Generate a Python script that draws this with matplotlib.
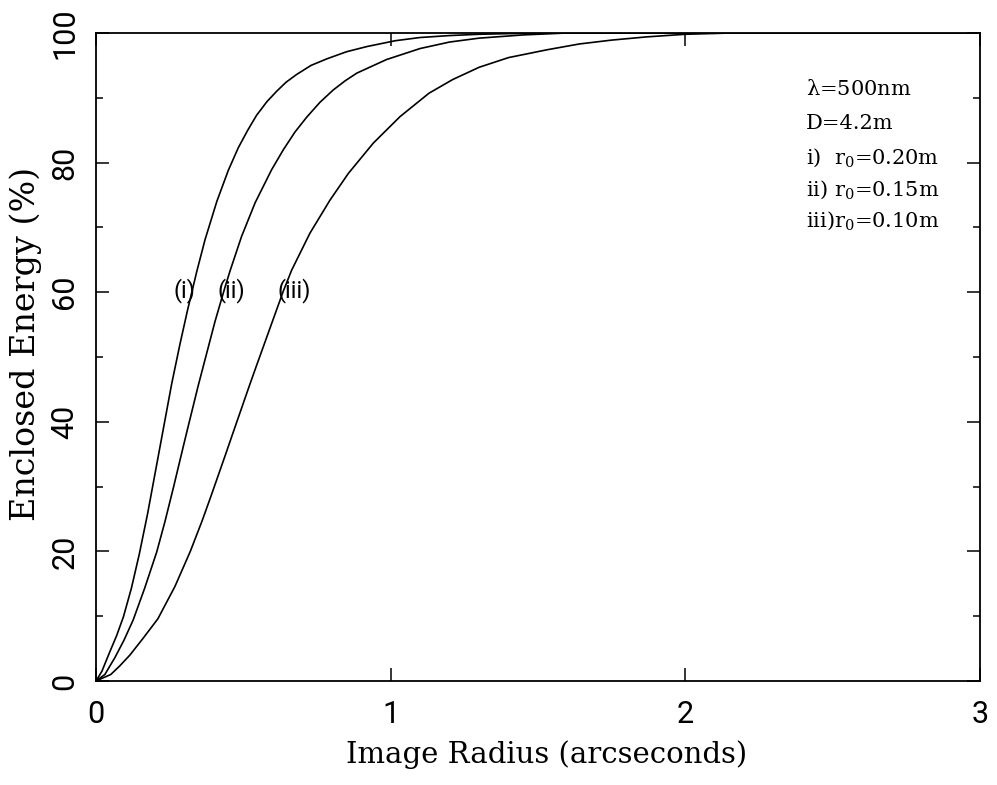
import matplotlib
matplotlib.use("Agg")
import matplotlib.pyplot as plt
from matplotlib.ticker import MultipleLocator

#=======================================
# Data
#=======================================
# curve (i)  r0 = 0.20 m
r_i = [0, 0.02, 0.045, 0.07, 0.093, 0.12, 0.147, 0.175, 0.215, 0.257, 0.285,
       0.31, 0.342, 0.37, 0.41, 0.449, 0.483, 0.515, 0.545, 0.58, 0.613,
       0.645, 0.681, 0.73, 0.783, 0.85, 0.919, 1.015, 1.1, 1.2, 1.3, 1.4,
       1.55, 3.0]
ee_i = [0, 1.5, 4.3, 7.0, 9.9, 14.3, 19.6, 25.8, 35.6, 45.9, 52.0,
        57.1, 63.2, 68.1, 74.0, 78.8, 82.3, 85.0, 87.3, 89.4, 91.0,
        92.4, 93.6, 95.0, 96.0, 97.1, 97.9, 98.8, 99.3, 99.6, 99.8, 99.9,
        100, 100]

# curve (ii)  r0 = 0.15 m
r_ii = [0, 0.03, 0.064, 0.095, 0.126, 0.165, 0.206, 0.234, 0.263, 0.291,
        0.308, 0.347, 0.404, 0.438, 0.455, 0.494, 0.54, 0.596, 0.636, 0.675,
        0.715, 0.76, 0.805, 0.845, 0.885, 0.986, 1.1, 1.2, 1.3, 1.45, 1.6,
        3.0]
ee_ii = [0, 1.0, 3.6, 6.3, 9.4, 14.3, 19.9, 24.6, 29.9, 35.2,
         38.4, 45.6, 55.5, 60.8, 63.3, 68.6, 73.8, 78.9, 82.0, 84.7,
         87.0, 89.3, 91.2, 92.6, 93.8, 95.9, 97.6, 98.6, 99.2, 99.7, 100,
         100]

# curve (iii)  r0 = 0.10 m
r_iii = [0, 0.05, 0.08, 0.115, 0.16, 0.21, 0.268, 0.32, 0.36, 0.39, 0.44,
         0.465, 0.52, 0.545, 0.598, 0.636, 0.664, 0.726, 0.794, 0.856, 0.941,
         1.032, 1.13, 1.21, 1.30, 1.40, 1.53, 1.64, 1.75, 1.87, 2.0, 2.16,
         3.0]
ee_iii = [0, 1.0, 2.3, 4.0, 6.6, 9.6, 14.6, 20.0, 24.7, 28.5, 35.0,
          38.3, 45.5, 48.7, 55.4, 60.2, 63.4, 69.1, 74.2, 78.3, 83.0,
          87.1, 90.7, 92.8, 94.7, 96.2, 97.4, 98.3, 98.9, 99.4, 99.8, 100,
          100]

curve_labels = ["(i)", "(ii)", "(iii)"]
curve_label_x = [0.30, 0.461, 0.672]
curve_label_y = 60.3

info_lines = [r"$\lambda$=500nm", "D=4.2m",
              r"i)  r$_\mathrm{0}$=0.20m",
              r"ii) r$_\mathrm{0}$=0.15m",
              r"iii)r$_\mathrm{0}$=0.10m"]
info_y = [91.4, 86.0, 80.7, 75.8, 71.0]

#=======================================
# Plot
#=======================================
plt.rcParams["mathtext.fontset"] = "custom"
plt.rcParams["mathtext.rm"] = "DejaVu Serif"
plt.rcParams["mathtext.it"] = "DejaVu Serif"

fig = plt.figure(figsize=(9.97, 7.85), dpi=100)
ax = fig.add_axes([0.0963, 0.1325, 0.8866, 0.8255])

for r, ee in [(r_i, ee_i), (r_ii, ee_ii), (r_iii, ee_iii)]:
    ax.plot(r, ee, color="black", lw=1.2, solid_joinstyle="round")

for lab, x in zip(curve_labels, curve_label_x):
    ax.text(x, curve_label_y, lab, ha="center", va="center",
            fontsize=17, family="Roboto")

for line, y in zip(info_lines, info_y):
    ax.text(2.41, y, line, ha="left", va="center",
            fontsize=15, family="DejaVu Serif")

ax.set_xlim(0, 3)
ax.set_ylim(0, 100)
ax.xaxis.set_major_locator(MultipleLocator(1))
ax.yaxis.set_major_locator(MultipleLocator(20))
ax.yaxis.set_minor_locator(MultipleLocator(10))
ax.tick_params(which="both", direction="in", top=True, right=True,
               color="black", width=1.1)
ax.tick_params(which="major", length=9.5)
ax.tick_params(which="minor", length=5)
ax.tick_params(axis="x", which="major", pad=14)
ax.tick_params(axis="y", which="major", pad=12)
for s in ax.spines.values():
    s.set_linewidth(1.3)

for t in ax.get_xticklabels():
    t.set_family("Roboto")
    t.set_fontsize(22)
for t in ax.get_yticklabels():
    t.set_family("Roboto")
    t.set_fontsize(22)
    t.set_rotation(90)
    t.set_va("center")

ax.set_xlabel("Image Radius (arcseconds)", family="DejaVu Serif", fontsize=21)
ax.set_ylabel("Enclosed Energy (%)", family="DejaVu Serif", fontsize=24)
ax.xaxis.label.set_va("center")
ax.yaxis.label.set_va("center")
ax.xaxis.set_label_coords(0.51, -0.114)
ax.yaxis.set_label_coords(-0.080, 0.52)

fig.savefig("out.png", dpi=100)
